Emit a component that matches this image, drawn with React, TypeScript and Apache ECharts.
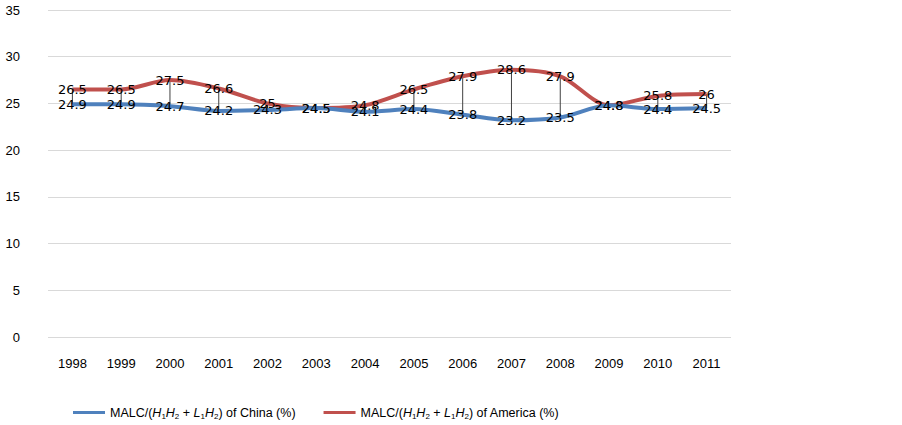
import React, { useEffect, useRef } from "react";
import * as echarts from "echarts";

const years = ["1998","1999","2000","2001","2002","2003","2004","2005","2006","2007","2008","2009","2010","2011"];
const china = [24.9, 24.9, 24.7, 24.2, 24.3, 24.5, 24.1, 24.4, 23.8, 23.2, 23.5, 24.8, 24.4, 24.5];
const america = [26.5, 26.5, 27.5, 26.6, 25, 24.5, 24.8, 26.5, 27.9, 28.6, 27.9, 24.8, 25.8, 26];
const chinaName = "China";
const americaName = "America";
const chinaColor = "#4F81BD";
const americaColor = "#C0504D";

export default function App() {
  const ref = useRef<HTMLDivElement>(null);
  useEffect(() => {
    const chart = echarts.init(ref.current!, null, { renderer: "svg" });
    const labelStyle = {
      show: true,
      position: "inside" as const,
      color: "#000",
      opacity: 1,
      fontFamily: "DejaVu Sans",
      fontSize: 13,
    };
    const rich = {
      n: { fontFamily: "Liberation Sans", fontSize: 12.5, color: "#000" },
      i: { fontFamily: "Liberation Sans", fontSize: 12.5, fontStyle: "italic", color: "#000" },
      s: { fontFamily: "Liberation Sans", fontSize: 8, color: "#000", padding: [7, 0, 0, 0] },
    };
    chart.setOption({
      animation: false,
      grid: { left: 48, right: 171, top: 10, bottom: 88, containLabel: false },
      legend: {
        left: 68,
        top: 401,
        itemWidth: 32,
        itemHeight: 3,
        itemGap: 28,
        icon: "rect",
        data: [
          { name: chinaName, itemStyle: { color: chinaColor, opacity: 1 } },
          { name: americaName, itemStyle: { color: americaColor, opacity: 1 } },
        ],
        formatter: (name: string) =>
          "{n|MALC/(}{i|H}{s|1}{i|H}{s|2}{n| + }{i|L}{s|1}{i|H}{s|2}{n|) of " + name + " (%)}",
        textStyle: { rich, fontFamily: "Liberation Sans", fontSize: 12.5, color: "#000" },
      },
      xAxis: {
        type: "category",
        data: years,
        boundaryGap: true,
        axisLine: { show: false },
        axisTick: { show: false },
        axisLabel: { color: "#000", fontFamily: "Liberation Sans", fontSize: 13, margin: 20 },
      },
      yAxis: {
        type: "value",
        min: 0,
        max: 35,
        interval: 5,
        axisLine: { show: false },
        axisTick: { show: false },
        axisLabel: { color: "#000", fontFamily: "Liberation Sans", fontSize: 13, margin: 28 },
        splitLine: { lineStyle: { color: "#d9d9d9", width: 1 } },
      },
      series: [
        {
          type: "custom",
          name: "hilo",
          silent: true,
          data: years.map((_, k) => [k, china[k], america[k]]),
          encode: { x: 0, y: [1, 2] },
          renderItem: (params: any, api: any) => {
            const p1 = api.coord([api.value(0), api.value(1)]);
            const p2 = api.coord([api.value(0), api.value(2)]);
            return {
              type: "line",
              shape: { x1: p1[0], y1: p1[1], x2: p2[0], y2: p2[1] },
              style: { stroke: "#404040", lineWidth: 1 },
            };
          },
          z: 1,
        },
        {
          type: "line",
          name: chinaName,
          data: china,
          smooth: 0.3,
          symbol: "circle",
          symbolSize: 1,
          showAllSymbol: true,
          lineStyle: { color: chinaColor, width: 4 },
          itemStyle: { color: "rgba(0,0,0,0)", borderWidth: 0 },
          label: labelStyle,
          labelLayout: { hideOverlap: false },
          z: 3,
        },
        {
          type: "line",
          name: americaName,
          data: america,
          smooth: 0.3,
          symbol: "circle",
          symbolSize: 1,
          showAllSymbol: true,
          lineStyle: { color: americaColor, width: 4 },
          itemStyle: { color: "rgba(0,0,0,0)", borderWidth: 0 },
          label: labelStyle,
          labelLayout: { hideOverlap: false },
          z: 2,
        },
      ],
    });
    return () => chart.dispose();
  }, []);
  return (
    <div
      ref={ref}
      style={{ position: "fixed", left: 0, top: 0, width: 902, height: 425, background: "#fff" }}
    />
  );
}
